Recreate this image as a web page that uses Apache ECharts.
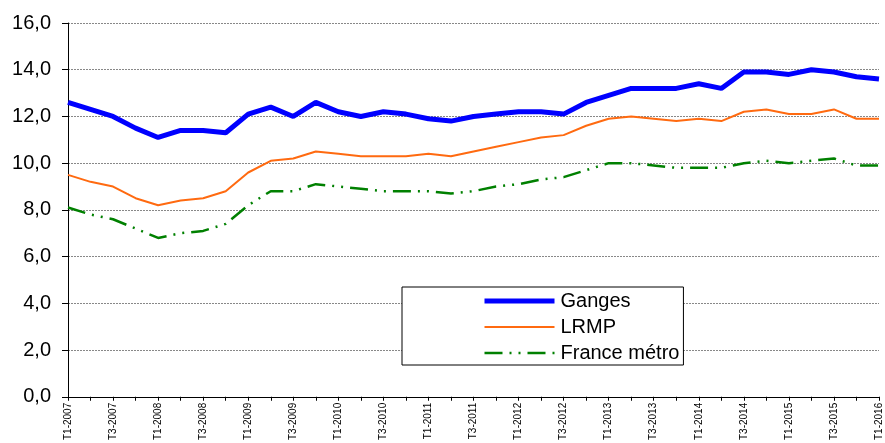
<!DOCTYPE html>
<html>
<head>
<meta charset="utf-8">
<script src="https://cdn.jsdelivr.net/npm/echarts@6/dist/echarts.min.js"></script>
<style>
  html, body { margin: 0; padding: 0; background: #fff; }
  #chart { width: 885px; height: 443px; }
</style>
</head>
<body>
<div id="chart"></div>
<script>
// trimestres T1-2007 .. T1-2016
const quarters = []
for (let y = 2007; y <= 2016; y++) {
  for (let q = 1; q <= 4; q++) {
    if (y === 2016 && q > 1) break
    quarters.push('T' + q + '-' + y)
  }
}

const ganges = [12.6, 12.3, 12.0, 11.5, 11.1, 11.4, 11.4, 11.3, 12.1, 12.4, 12.0, 12.6, 12.2,
  12.0, 12.2, 12.1, 11.9, 11.8, 12.0, 12.1, 12.2, 12.2, 12.1, 12.6, 12.9, 13.2, 13.2,
  13.2, 13.4, 13.2, 13.9, 13.9, 13.8, 14.0, 13.9, 13.7, 13.6]

const lrmp = [9.5, 9.2, 9.0, 8.5, 8.2, 8.4, 8.5, 8.8, 9.6, 10.1, 10.2, 10.5, 10.4,
  10.3, 10.3, 10.3, 10.4, 10.3, 10.5, 10.7, 10.9, 11.1, 11.2, 11.6, 11.9, 12.0, 11.9,
  11.8, 11.9, 11.8, 12.2, 12.3, 12.1, 12.1, 12.3, 11.9, 11.9]

const franceMetro = [8.1, 7.8, 7.6, 7.2, 6.8, 7.0, 7.1, 7.4, 8.2, 8.8, 8.8, 9.1, 9.0,
  8.9, 8.8, 8.8, 8.8, 8.7, 8.8, 9.0, 9.1, 9.3, 9.4, 9.7, 10.0, 10.0, 9.9,
  9.8, 9.8, 9.8, 10.0, 10.1, 10.0, 10.1, 10.2, 9.9, 9.9]

const greenDash = [18, 7, 2, 7, 2, 7]

const chart = echarts.init(document.getElementById('chart'))
const option = {
  animation: false,
  textStyle: { fontFamily: 'Liberation Sans, Arial, sans-serif' },
  grid: { left: 68, right: 6, top: 23, bottom: 44 },
  legend: {
    orient: 'vertical',
    left: 402,
    top: 287,
    padding: [4, 4, 2, 80],
    itemWidth: 70,
    itemHeight: 20,
    itemGap: 6,
    borderColor: '#000',
    borderWidth: 1,
    backgroundColor: '#fff',
    itemStyle: { opacity: 0 },
    textStyle: { fontSize: 20, color: '#000', padding: [0, 0, 0, 1] },
    data: [
      { name: 'Ganges', lineStyle: { width: 5 } },
      { name: 'LRMP', lineStyle: { width: 2 } },
      { name: 'France métro', lineStyle: { width: 2.5, type: greenDash } }
    ]
  },
  xAxis: {
    type: 'category',
    data: quarters,
    boundaryGap: false,
    axisLine: { lineStyle: { color: '#000', width: 1 } },
    axisTick: { alignWithLabel: true, interval: 0, length: 4, lineStyle: { color: '#000' } },
    axisLabel: { interval: 1, rotate: 90, fontSize: 10, color: '#000', margin: 6 }
  },
  yAxis: {
    type: 'value',
    min: 0,
    max: 16,
    interval: 2,
    axisLine: { show: true, lineStyle: { color: '#000', width: 1 } },
    axisTick: { show: true, length: 6, lineStyle: { color: '#000' } },
    axisLabel: {
      fontSize: 20,
      color: '#000',
      margin: 17,
      formatter: v => v.toFixed(1).replace('.', ',')
    },
    splitLine: { lineStyle: { color: '#888', type: [2, 1], width: 1 } }
  },
  series: [
    {
      name: 'Ganges',
      type: 'line',
      data: ganges,
      symbol: 'none',
      color: '#0000ff',
      lineStyle: { width: 5, color: '#0000ff' }
    },
    {
      name: 'LRMP',
      type: 'line',
      data: lrmp,
      symbol: 'none',
      color: '#ff6a10',
      lineStyle: { width: 2, color: '#ff6a10' }
    },
    {
      name: 'France métro',
      type: 'line',
      data: franceMetro,
      symbol: 'none',
      color: '#008000',
      lineStyle: { width: 2.5, color: '#008000', type: greenDash }
    }
  ]
}
chart.setOption(option)
</script>
</body>
</html>
